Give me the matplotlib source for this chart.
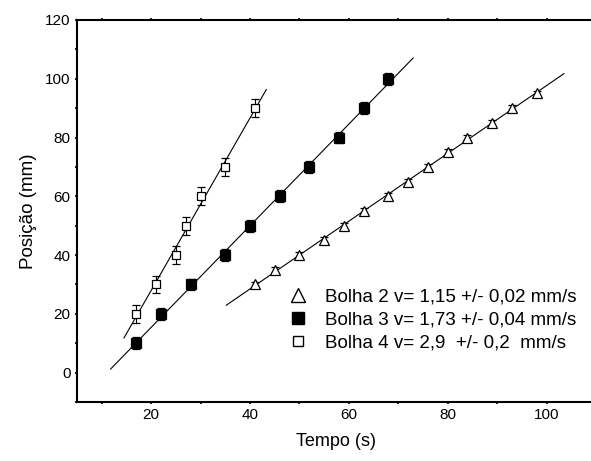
import matplotlib
matplotlib.use('Agg')
import matplotlib.pyplot as plt
import numpy as np

plt.rcParams['font.family'] = ['Liberation Sans', 'DejaVu Sans']

# dados
t_b2 = [41, 45, 50, 55, 59, 63, 68, 72, 76, 80, 84, 89, 93, 98]
y_b2 = [30, 35, 40, 45, 50, 55, 60, 65, 70, 75, 80, 85, 90, 95]
e_b2 = [1] * len(t_b2)

t_b3 = [17, 22, 28, 35, 40, 46, 52, 58, 63, 68]
y_b3 = [10, 20, 30, 40, 50, 60, 70, 80, 90, 100]
e_b3 = [2] * len(t_b3)

t_b4 = [17, 21, 25, 27, 30, 35, 41]
y_b4 = [20, 30, 40, 50, 60, 70, 90]
e_b4 = [3] * len(t_b4)

# intervalo das retas ajustadas
fit_b2 = (35.2, 103.5)
fit_b3 = (11.8, 73.0)
fit_b4 = (14.5, 43.3)

labels = ['Bolha 2 v= 1,15 +/- 0,02 mm/s',
          'Bolha 3 v= 1,73 +/- 0,04 mm/s',
          'Bolha 4 v= 2,9  +/- 0,2  mm/s']

fig = plt.figure(figsize=(5.91, 4.61), dpi=100)
ax = fig.add_axes([77 / 591, 59 / 461, 519 / 591, 382 / 461])

def fitline(t, y, rng):
    a, b = np.polyfit(t, y, 1)
    xx = np.array(rng)
    ax.plot(xx, a * xx + b, color='black', lw=0.8, zorder=1)

fitline(t_b2, y_b2, fit_b2)
fitline(t_b3, y_b3, fit_b3)
fitline(t_b4, y_b4, fit_b4)

ekw = dict(ecolor='black', elinewidth=0.8, capsize=2.8, capthick=0.8, ls='none', zorder=3)
ax.errorbar(t_b2, y_b2, yerr=e_b2, fmt='^', ms=7, mfc='white', mec='black', mew=0.9, **ekw)
ax.errorbar(t_b3, y_b3, yerr=e_b3, fmt='s', ms=6.5, mfc='black', mec='black', mew=0.9, **ekw)
ax.errorbar(t_b4, y_b4, yerr=e_b4, fmt='s', ms=6, mfc='white', mec='black', mew=0.9, **ekw)

ax.set_xlim(5, 110)
ax.set_ylim(-10, 120)
ax.set_xticks(np.arange(20, 101, 20))
ax.set_xticks(np.arange(10, 110, 20), minor=True)
ax.set_yticks(np.arange(0, 121, 20))
ax.set_yticks(np.arange(-10, 121, 20), minor=True)
ax.tick_params(which='major', direction='out', length=6, width=1.2, labelsize=11, pad=3)
ax.tick_params(which='minor', direction='out', length=3.5, width=1.2)
ax.tick_params(top=True, which='both', length=1.5)
for s in ax.spines.values():
    s.set_linewidth(1.5)

ax.set_xlabel('Tempo (s)', fontsize=13, labelpad=8)
ax.set_ylabel('Posição (mm)', fontsize=13.5, labelpad=6)

h1 = plt.Line2D([], [], ls='none', marker='^', ms=9.5, mfc='white', mec='black', mew=1.0)
h2 = plt.Line2D([], [], ls='none', marker='s', ms=9, mfc='black', mec='black')
h3 = plt.Line2D([], [], ls='none', marker='s', ms=7, mfc='white', mec='black', mew=1.0)
ax.legend([h1, h2, h3], labels, loc='upper left', bbox_to_anchor=(0.393, 0.318),
          frameon=False, fontsize=13.5, handlelength=1.0, handletextpad=0.95,
          labelspacing=0.32, borderaxespad=0)

fig.savefig('out.png', dpi=100)
